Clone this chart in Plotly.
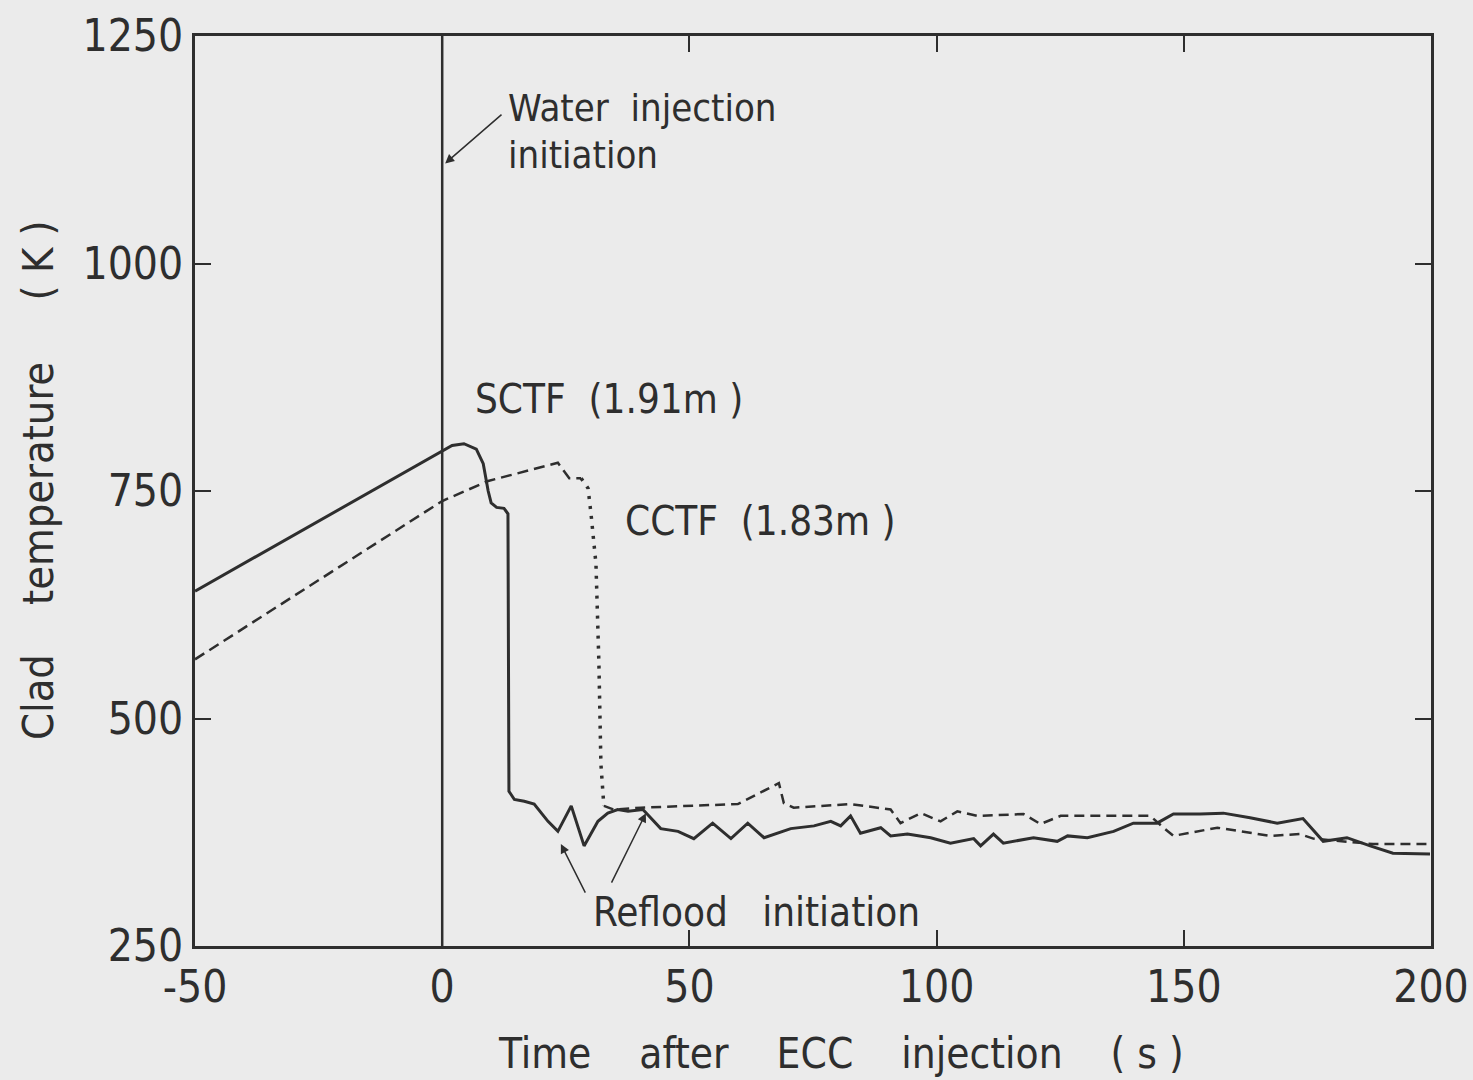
import plotly.graph_objects as go

# ---------------- data ----------------
sctf_t = [-50, 0, 2, 4.4, 6.9, 8.3, 8.9, 9.3, 9.9, 11, 12.5, 13.3, 13.5, 14.6, 16.6, 18.6,
          21.4, 23.4, 26.1, 28.7, 31.5, 33.5, 35.5, 37.6, 40.6, 44.2, 47.7, 50.9, 54.7,
          58.4, 61.8, 65.1, 70.5, 75.2, 78.6, 80.6, 82.6, 84.6, 88.7, 90.7, 94.1, 98.8,
          102.8, 107.5, 108.9, 111.5, 113.5, 119.6, 124.4, 126.5, 130.5, 135.8, 139.8,
          144.6, 147.9, 153.3, 158.0, 163.4, 168.9, 174.1, 178.2, 183.0, 187.7, 192.3, 199.8]
sctf_k = [640, 794, 800, 802, 796, 780, 761, 750, 737, 732, 731, 725, 420, 411, 409, 406,
          387, 376, 404, 360, 387, 396, 400, 398, 400, 379, 376, 368, 385,
          368, 385, 369, 379, 382, 387, 382, 393, 374, 380, 371, 373, 369,
          363, 368, 360, 373, 363, 369, 365, 371, 369, 376, 385,
          385, 395, 395, 396, 391, 385, 390, 365, 369, 360, 352, 351]

cctf_t = [-50, 0, 9.3, 23.4, 25.7, 28.1, 29.5, 30.1, 31.1, 31.7, 32.1, 32.7, 34.7, 40.2,
          59.8, 68.1, 69.1, 71.1, 82.6, 90.7, 92.7, 96.8, 100.8, 104.2, 108.3, 117.6,
          121.0, 125.1, 143.2, 145.9, 147.9, 156.8, 167.5, 173.5, 176.2, 188.3, 199.8]
cctf_k = [565, 739, 761, 781, 764, 764, 753, 725, 670, 560, 450, 404, 400, 402,
          406, 429, 407, 402, 406, 400, 385, 396, 387, 398, 393, 395,
          384, 393, 393, 380, 371, 380, 371, 373, 368, 362, 362]
# the CCTF quench drop is drawn dotted between these sample indices
cctf_dot_from, cctf_dot_to = 5, 11

x_ticks = [-50, 0, 50, 100, 150, 200]
x_ticktext = ["-50", "0", "50", "100", "150", "200"]
y_ticks = [250, 500, 750, 1000, 1250]
y_ticktext = ["250", "500", "750", "1000", "1250"]

water_injection_t = 0

# ---------------- styling ----------------
FONT = "Liberation Sans Narrow, DejaVu Sans Condensed, Arial Narrow, sans-serif"
INK = "#2e2e2e"
BG = "#ebebeb"
SP = "\u00a0"

fig = go.Figure()

fig.add_trace(go.Scatter(x=sctf_t, y=sctf_k, mode="lines",
                         line=dict(color=INK, width=3), showlegend=False))

seg1 = slice(0, cctf_dot_from + 1)
seg2 = slice(cctf_dot_from, cctf_dot_to + 1)
seg3 = slice(cctf_dot_to, len(cctf_t))
fig.add_trace(go.Scatter(x=cctf_t[seg1], y=cctf_k[seg1], mode="lines",
                         line=dict(color=INK, width=2.5, dash="11px,6px"), showlegend=False))
fig.add_trace(go.Scatter(x=cctf_t[seg2], y=cctf_k[seg2], mode="lines",
                         line=dict(color=INK, width=3.5, dash="3px,7px"), showlegend=False))
fig.add_trace(go.Scatter(x=cctf_t[seg3], y=cctf_k[seg3], mode="lines",
                         line=dict(color=INK, width=2.5, dash="10px,6px"), showlegend=False))

# water injection initiation line
fig.add_shape(type="line", x0=water_injection_t, x1=water_injection_t, y0=250, y1=1250,
              xref="x", yref="y", line=dict(color=INK, width=2.5))

ann_font = dict(family=FONT, size=38, color=INK)
annotations = [
    dict(x=13, y=1171, text="Water" + SP * 2 + "injection", showarrow=False,
         xanchor="left", yanchor="middle", font=ann_font),
    dict(x=13, y=1119, text="initiation", showarrow=False,
         xanchor="left", yanchor="middle", font=ann_font),
    dict(x=6.3, y=851, text="SCTF" + SP * 2 + "(1.91m" + SP + ")", showarrow=False,
         xanchor="left", yanchor="middle", font=dict(family=FONT, size=40, color=INK)),
    dict(x=36.6, y=717, text="CCTF" + SP * 2 + "(1.83m" + SP + ")", showarrow=False,
         xanchor="left", yanchor="middle", font=dict(family=FONT, size=40, color=INK)),
    dict(x=30, y=287, text="Reflood" + SP * 3 + "initiation", showarrow=False,
         xanchor="left", yanchor="middle", font=dict(family=FONT, size=40, color=INK)),
    # arrows
    dict(x=0.6, y=1110, ax=12.3, ay=1165, xref="x", yref="y", axref="x", ayref="y",
         text="", showarrow=True, arrowhead=2, arrowsize=1.2, arrowwidth=1.5, arrowcolor=INK),
    dict(x=24.0, y=362, ax=29.1, ay=307, xref="x", yref="y", axref="x", ayref="y",
         text="", showarrow=True, arrowhead=2, arrowsize=1.2, arrowwidth=1.5, arrowcolor=INK),
    dict(x=41.2, y=396, ax=34.1, ay=318, xref="x", yref="y", axref="x", ayref="y",
         text="", showarrow=True, arrowhead=2, arrowsize=1.2, arrowwidth=1.5, arrowcolor=INK),
    # axis titles
    dict(x=80.6, y=0, xref="x", yref="paper", yshift=-107,
         text=("Time" + SP * 4 + "after" + SP * 4 + "ECC" + SP * 4 + "injection" + SP * 4
               + "(" + SP + "s" + SP + ")"),
         showarrow=False, xanchor="center", yanchor="middle",
         font=dict(family=FONT, size=42, color=INK)),
    dict(x=-0.127, y=762, xref="paper", yref="y", textangle=-90,
         text="Clad" + SP * 4 + "temperature" + SP * 5 + "(" + SP + "K" + SP + ")",
         showarrow=False, xanchor="center", yanchor="middle",
         font=dict(family=FONT, size=43, color=INK)),
]
for a in annotations:
    a.setdefault("xref", "x")
    a.setdefault("yref", "y")
fig.update_layout(annotations=annotations)

axis_common = dict(showline=True, linewidth=3, linecolor=INK, mirror="ticks",
                   ticks="inside", ticklen=16, tickwidth=2, tickcolor=INK,
                   showgrid=False, zeroline=False, ticklabeloverflow="allow",
                   automargin=False,
                   tickfont=dict(family=FONT, size=44, color=INK))

fig.update_xaxes(range=[-50, 200], tickvals=x_ticks, ticktext=x_ticktext, **axis_common)
fig.update_yaxes(range=[250, 1250], tickvals=y_ticks, ticktext=y_ticktext, **axis_common)

fig.update_layout(width=1473, height=1080,
                  margin=dict(l=195, r=42, t=36, b=134),
                  paper_bgcolor=BG, plot_bgcolor=BG)

fig.write_html("out.html", config={"displayModeBar": False},
               post_script="document.body.style.margin='0';document.body.style.overflow='hidden';")
